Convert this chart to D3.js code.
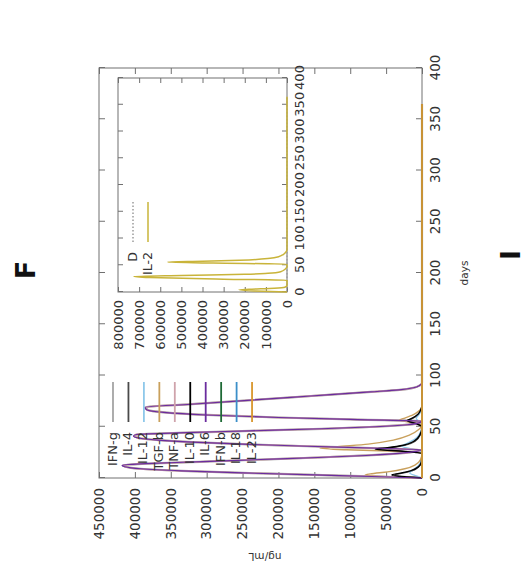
<!DOCTYPE html>
<html><head><meta charset="utf-8">
<script src="https://cdn.jsdelivr.net/npm/d3@7"></script>
<style>
body{margin:0;background:#fff}
svg{display:block}
text{font-family:"DejaVu Sans",sans-serif}
</style>
</head><body>
<svg id="c" width="525" height="573"></svg>
<script>
// ---------- data ----------
const dayTicks = [0,50,100,150,200,250,300,350,400];
const valueTicks = [0,50000,100000,150000,200000,250000,300000,350000,400000,450000];
const insetValueTicks = [0,100000,200000,300000,400000,500000,600000,700000,800000];

const seriesNames  = ["IFN-g","IL-4","IL-12","TGF-b","TNF-a","IL-10","IL-6","IFN-b","IL-18","IL-23"];
const seriesColors = ["#a4a4a4","#4a4a4a","#8ec8ea","#c9a05c","#cfa3ab","#000000","#6a2c9e","#1e6a36","#3b8fc9","#d9962c"];

const ifng = [[0,0],[1.5,70000],[3,150000],[5,250000],[7,335000],[9,392000],[11,413000],[12.5,416000],[14,384000],[16,304000],[18,224000],[20,144000],[22,77000],[24,31000],[26,8000],[27.5,0],
  [29,60000],[31,160000],[33,250000],[35,320000],[37,367000],[39,394000],[41,400000],[42.5,397000],[44,339000],[46,239000],[48,139000],[50,64000],[52,19000],[54,3000],[55.5,0],
  [57,90000],[59,200000],[61.5,300000],[64,359000],[66.3,382000],[69,385000],[72,321000],[76,237000],[80,154000],[84,71000],[86,31000],[88,12000],[90.5,3000],[93,0],[120,0],[365,0]];
const il4 = [[0,0],[1.2,22000],[3,38000],[4.5,29000],[7,14000],[11,4500],[16,700],[24,0],[26,22000],[28,59000],[29.5,43000],[32,23000],[36,9500],[42,2500],[50,0],
  [53,7000],[56,19000],[58,13000],[62,5000],[67,1200],[72,0],[365,0]];
const il12 = [[0,0],[2,8000],[5,17000],[8,12000],[12,5000],[18,1000],[25,0],[28,12000],[31,28000],[34,20000],[39,8000],[46,1500],[52,0],
  [55,4000],[58,8000],[62,4000],[68,800],[74,0],[365,0]];
const tgfb = [[0,0],[1,40000],[2,68000],[3,79000],[4,72000],[6,48000],[9,24000],[13,9000],[18,2000],[24,0],[26,35000],[27.5,105000],[29,142000],[30.5,118000],[33,75000],[37,40000],[42,17000],[47,5000],[52,0],
  [54,14000],[56.5,31000],[58.5,24000],[61,14000],[65,5000],[70,0],[365,0]];
const tnfa = [[0,0],[1.5,70000],[3,151000],[5,251000],[7,336000],[9,393000],[11,414000],[12.5,417000],[14,385000],[16,305000],[18,225000],[20,145000],[22,78000],[24,32000],[26,8000],[27.5,0],
  [29,60000],[31,160000],[33,250000],[35,320000],[37,368000],[39,395000],[41,401000],[42.5,398000],[44,340000],[46,240000],[48,140000],[50,65000],[52,20000],[54,3000],[55.5,0],
  [57,90000],[59,200000],[61.5,300000],[64,360000],[66.3,383000],[69,386000],[72,322000],[76,238000],[80,155000],[84,72000],[86,32000],[88,12000],[90.5,3000],[93,0],[120,0],[365,0]];
const il10 = [[0,0],[1.2,25000],[3,42000],[4.5,32000],[7,16000],[11,5000],[16,800],[24,0],[26,25000],[28,65000],[29.5,48000],[32,26000],[36,11000],[42,3000],[50,0],
  [53,8000],[56,21000],[58,15000],[62,6000],[67,1500],[72,0],[365,0]];
const il6 = [[0,0],[1.5,70000],[3,150000],[5,250000],[7,335000],[9,392000],[11,414000],[12.5,418000],[14,385000],[16,305000],[18,225000],[20,145000],[22,78000],[24,32000],[26,8000],[27.5,0],
  [29,60000],[31,160000],[33,250000],[35,320000],[37,368000],[39,395000],[41,402000],[42.5,398000],[44,340000],[46,240000],[48,140000],[50,65000],[52,20000],[54,3000],[55.5,0],
  [57,90000],[59,200000],[61.5,300000],[64,360000],[66.3,383000],[69,386000],[72,322000],[76,238000],[80,155000],[84,72000],[86,32000],[88,12000],[90.5,3000],[93,0],[120,0],[365,0]];
const ifnb = [[0,0],[365,0]];
const il18 = [[0,0],[365,0]];
const il23 = [[0,0],[365,0]];
const seriesValues = [ifng, il4, il12, tgfb, tnfa, il10, il6, ifnb, il18, il23];
const seriesWidths = [2.2, 1.3, 1.3, 1.4, 1.8, 1.4, 1.15, 1.3, 1.3, 1.8];

const insetNames  = ["D","IL-2"];
const insetColors = ["#9a9a9a","#c9b43a"];
const dValues  = [[0,0],[365,0]];
const il2Values = [[0,0],[2,150000],[4,227000],[5,180000],[7,60000],[9,10000],[12,0],[22,0],[24,300000],[27,650000],[29,725000],[31,500000],[33,200000],[35,90000],[38,30000],[43,8000],[47,0],
  [52,0],[54,350000],[56,565000],[57.5,400000],[60,180000],[63,80000],[66,40000],[70,18000],[75,5000],[79,0],[365,0]];
const insetValues = [dValues, il2Values];

// ---------- drawing ----------
const svg = d3.select("#c");
// whole figure is rotated 90 degrees counter-clockwise
const g = svg.append("g").attr("transform","translate(0,573) rotate(-90)");

const fmt = d3.format("d");
const frameColor = "#707070";
const textColor = "#333";

function styleAxis(sel, size){
  sel.select(".domain").remove();
  sel.selectAll(".tick line").attr("stroke", frameColor);
  sel.selectAll(".tick text").attr("fill", textColor).style("font-size", size + "px")
     .style("font-family", '"DejaVu Sans",sans-serif');
}

function panel(opts){
  const {x0,x1,y0,y1,yMax,yTicks,tick,fontSize,names,colors,values,widths,dashes,legX,legY0,legStep} = opts;
  const x = d3.scaleLinear().domain([0,400]).range([x0,x1]);
  const y = d3.scaleLinear().domain([0,yMax]).range([y1,y0]);

  g.append("rect").attr("x",x0).attr("y",y0).attr("width",x1-x0).attr("height",y1-y0)
    .attr("fill","#fff").attr("stroke",frameColor).attr("stroke-width",1);

  g.append("g").attr("transform",`translate(0,${y1})`)
    .call(d3.axisBottom(x).tickValues(dayTicks).tickFormat(fmt).tickSize(-tick).tickPadding(opts.xPad))
    .call(s=>styleAxis(s,fontSize));
  g.append("g").attr("transform",`translate(0,${y0})`)
    .call(d3.axisTop(x).tickValues(dayTicks).tickFormat("").tickSize(-tick))
    .call(s=>styleAxis(s,fontSize));
  g.append("g").attr("transform",`translate(${x0},0)`)
    .call(d3.axisLeft(y).tickValues(yTicks).tickFormat(fmt).tickSize(-tick).tickPadding(opts.yPad))
    .call(s=>styleAxis(s,fontSize));
  g.append("g").attr("transform",`translate(${x1},0)`)
    .call(d3.axisRight(y).tickValues(yTicks).tickFormat("").tickSize(-tick))
    .call(s=>styleAxis(s,fontSize));

  const line = d3.line().x(d=>x(d[0])).y(d=>y(d[1])).curve(d3.curveMonotoneX);
  values.forEach((v,i)=>{
    g.append("path").datum(v).attr("d",line).attr("fill","none")
      .attr("stroke",colors[i]).attr("stroke-width",widths[i])
      .attr("stroke-linejoin","round")
      .attr("stroke-dasharray",dashes ? dashes[i] : null);
  });

  // legend
  names.forEach((n,i)=>{
    const yy = legY0 + i*legStep;
    g.append("line").attr("x1",legX).attr("x2",legX+40).attr("y1",yy).attr("y2",yy)
      .attr("stroke",colors[i]).attr("stroke-width",opts.legW)
      .attr("stroke-dasharray",dashes ? dashes[i] : null);
    g.append("text").attr("x",legX-10).attr("y",yy).attr("text-anchor","end")
      .attr("dominant-baseline","middle").attr("fill",textColor)
      .style("font-size",opts.legFont+"px").text(n);
  });
}

// main panel
panel({x0:95,x1:505,y0:99,y1:422,yMax:450000,yTicks:valueTicks,tick:6,fontSize:13.5,xPad:8,yPad:10,
  names:seriesNames,colors:seriesColors,values:seriesValues,widths:seriesWidths,
  legX:151,legY0:113,legStep:15.45,legW:1.8,legFont:13});

// inset panel
panel({x0:281,x1:495,y0:118,y1:287,yMax:800000,yTicks:insetValueTicks,tick:5,fontSize:13,xPad:8,yPad:8,
  names:insetNames,colors:insetColors,values:insetValues,widths:[1.2,1.5],dashes:["1.5,2",null],
  legX:331,legY0:133,legStep:15,legW:1.5,legFont:12.5});

// axis titles
g.append("text").attr("x",300).attr("y",465).attr("text-anchor","middle").attr("dominant-baseline","middle")
  .attr("fill",textColor).style("font-size","10.5px").text("days");
g.append("text").attr("transform","translate(17,265) rotate(-90)").attr("text-anchor","middle")
  .attr("dominant-baseline","middle").attr("fill",textColor).style("font-size","10.5px").text("ng/mL");

// panel letters
g.append("text").attr("x",303).attr("y",25).attr("text-anchor","middle").attr("dominant-baseline","central")
  .style("font-size","27px").style("font-weight","bold").attr("fill","#111").text("F");
g.append("text").attr("x",318).attr("y",510).attr("text-anchor","middle").attr("dominant-baseline","central")
  .style("font-size","27px").style("font-weight","bold").attr("fill","#111").text("I");
</script>
</body></html>
